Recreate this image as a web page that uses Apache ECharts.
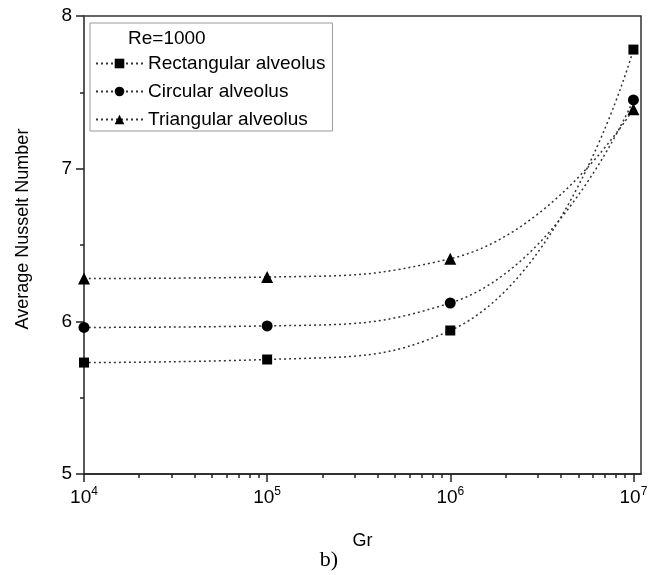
<!DOCTYPE html>
<html lang="en">
<head>
<meta charset="UTF-8" />
<title>Average Nusselt Number vs Gr</title>
<style>
  html, body { margin: 0; padding: 0; background: #fff; }
  #chart { width: 660px; height: 575px; }
</style>
</head>
<body>
<div id="chart"></div>
<script src="https://cdn.jsdelivr.net/npm/echarts@6/dist/echarts.min.js"></script>
<script>
  // Gr values (log axis) and Nusselt numbers
  const grValues = [1e4, 1e5, 1e6, 1e7];
  const rectangular = [5.73, 5.75, 5.94, 7.78];
  const circular = [5.96, 5.97, 6.12, 7.45];
  const triangular = [6.28, 6.29, 6.41, 7.39];

  const seriesNames = ['Rectangular alveolus', 'Circular alveolus', 'Triangular alveolus'];
  const majorTicks = [1e4, 1e5, 1e6, 1e7];
  const minorTicks = [];
  for (let p = 4; p < 7; p++) {
    for (let k = 2; k <= 9; k++) minorTicks.push(k * Math.pow(10, p));
  }

  const font = "'Liberation Sans', Arial, sans-serif";
  const pairs = vals => grValues.map((g, i) => [g, vals[i]]);

  const chart = echarts.init(document.getElementById('chart'), null, { renderer: 'canvas' });

  const lineStyle = { color: '#333', width: 1.5, type: [2, 3] };
  function makeSeries(name, vals, symbol, size) {
    return {
      name: name,
      type: 'line',
      data: pairs(vals),
      smooth: 0.5,
      symbol: symbol,
      symbolSize: size,
      lineStyle: lineStyle,
      itemStyle: { color: '#000' },
      z: 3
    };
  }

  const option = {
    animation: false,
    backgroundColor: '#fff',
    textStyle: { fontFamily: font, color: '#000' },
    grid: {
      show: true,
      left: 84, right: 19, top: 16, bottom: 101,
      borderColor: '#333', borderWidth: 1.5
    },
    title: {
      text: 'Re=1000',
      left: 128, top: 29,
      padding: 0,
      textStyle: { fontFamily: font, fontSize: 19, fontWeight: 'normal', color: '#000' }
    },
    legend: {
      orient: 'vertical',
      left: 90, top: 23,
      padding: [31, 7, 2, 5],
      itemWidth: 47, itemHeight: 12, itemGap: 9,
      borderColor: '#999', borderWidth: 1,
      backgroundColor: '#fff',
      data: seriesNames,
      textStyle: { fontFamily: font, fontSize: 19, color: '#000' }
    },
    graphic: [
      {
        type: 'text', x: 23, y: 229, rotation: Math.PI / 2,
        style: {
          text: 'Average Nusselt Number', fontFamily: font, fontSize: 18,
          fill: '#000', align: 'center', verticalAlign: 'middle'
        }
      },
      {
        type: 'text', x: 329, y: 560,
        style: {
          text: 'b)', fontFamily: "'Liberation Serif', 'Times New Roman', serif",
          fontSize: 22, fill: '#000', align: 'center', verticalAlign: 'middle'
        }
      }
    ],
    xAxis: [
      {
        type: 'log', logBase: 10, min: 1e4, max: 1.1e7,
        position: 'bottom',
        name: 'Gr', nameLocation: 'middle', nameGap: 58,
        nameTextStyle: { fontFamily: font, fontSize: 18, color: '#000' },
        axisLine: { onZero: false, lineStyle: { color: '#222', width: 1.5 } },
        axisTick: { customValues: majorTicks, length: 8, lineStyle: { color: '#222', width: 1.5 } },
        axisLabel: {
          customValues: majorTicks,
          margin: 12,
          formatter: v => '{b|10}{s|' + Math.round(Math.log10(v)) + '}',
          rich: {
            b: { fontFamily: font, fontSize: 19, lineHeight: 24, color: '#000' },
            s: { fontFamily: font, fontSize: 12, lineHeight: 12, verticalAlign: 'top', color: '#000' }
          }
        },
        splitLine: { show: false }
      },
      {
        type: 'log', logBase: 10, min: 1e4, max: 1.1e7,
        position: 'bottom',
        axisLine: { show: false, onZero: false },
        axisTick: { customValues: minorTicks, inside: false, length: 4, lineStyle: { color: '#222', width: 1.5 } },
        axisLabel: { show: false },
        splitLine: { show: false }
      }
    ],
    yAxis: {
      type: 'value', min: 5, max: 8, interval: 1,
      axisLine: { show: true, lineStyle: { color: '#555', width: 1.5 } },
      axisTick: { show: true, length: 8, lineStyle: { color: '#222', width: 1.5 } },
      minorTick: { show: true, splitNumber: 2, length: 4, lineStyle: { color: '#222', width: 1.5 } },
      axisLabel: { fontFamily: font, fontSize: 19, color: '#000', margin: 12 },
      splitLine: { show: false },
      minorSplitLine: { show: false }
    },
    series: [
      makeSeries(seriesNames[0], rectangular, 'rect', 10),
      makeSeries(seriesNames[1], circular, 'circle', 11),
      makeSeries(seriesNames[2], triangular, 'triangle', 12)
    ]
  };

  chart.setOption(option);
  window.addEventListener('resize', () => chart.resize());
</script>
</body>
</html>
